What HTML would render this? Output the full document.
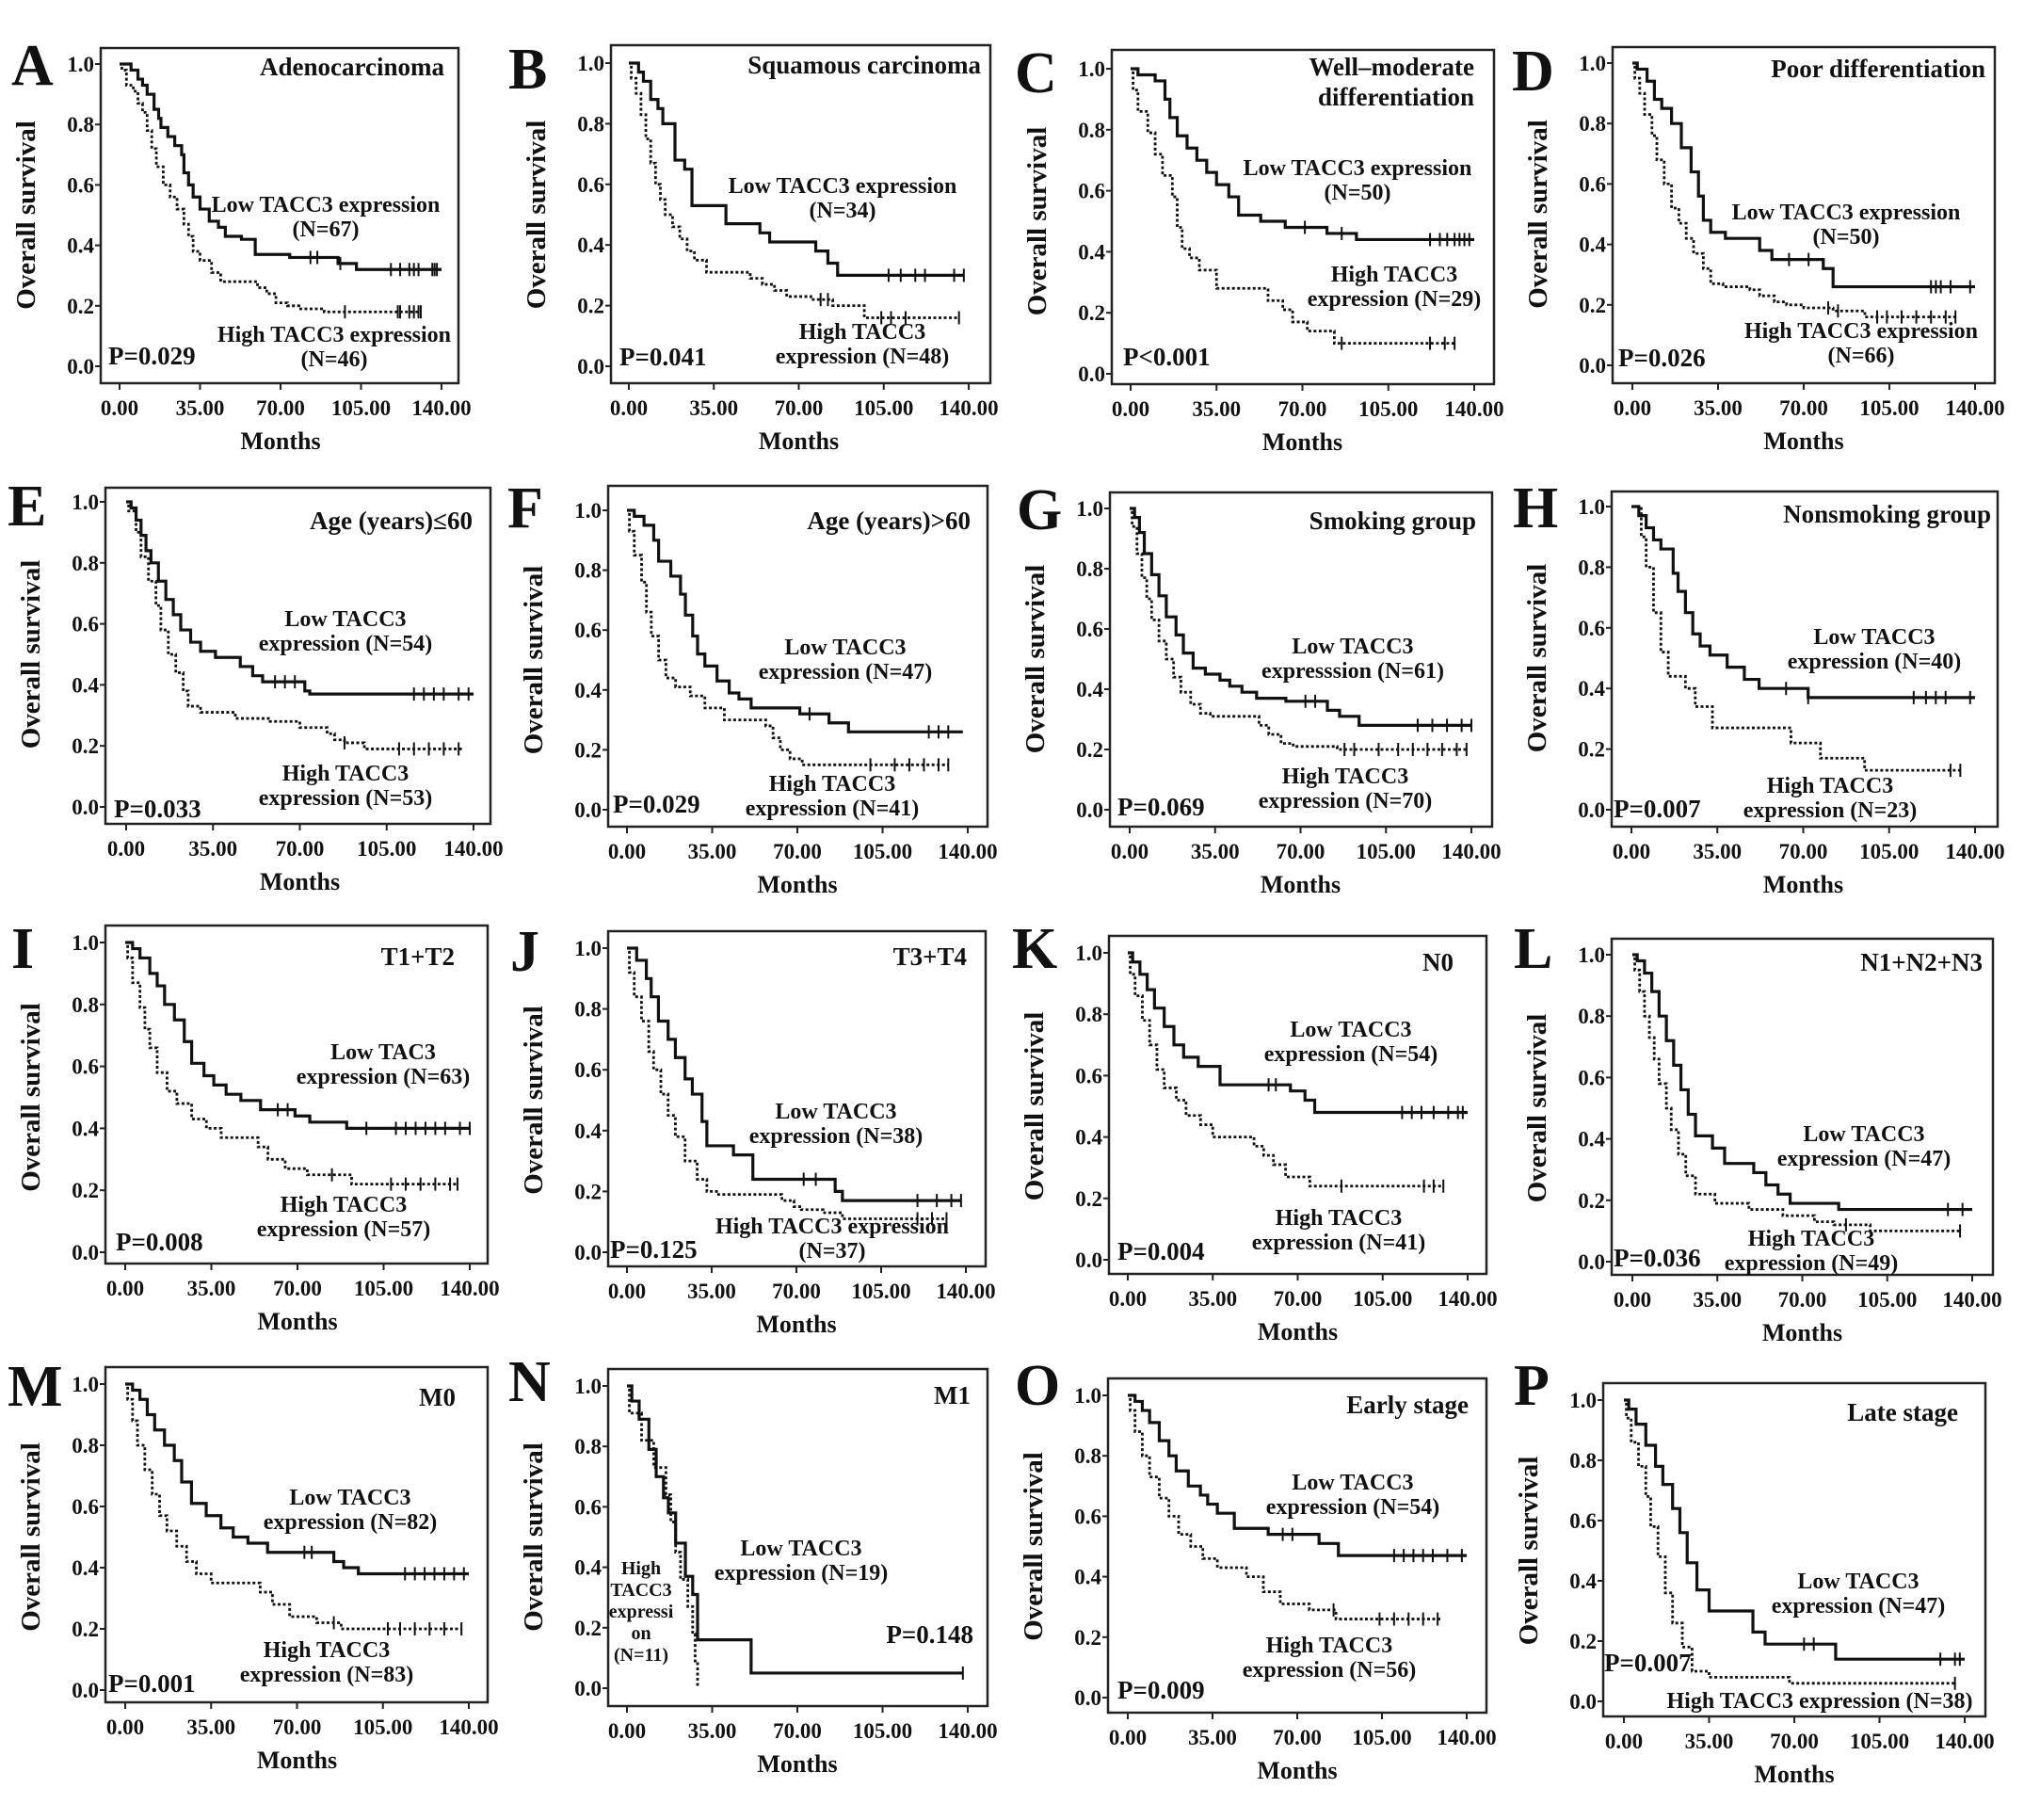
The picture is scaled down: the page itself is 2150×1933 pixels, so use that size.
<!DOCTYPE html>
<html><head><meta charset="utf-8">
<style>
html,body{margin:0;padding:0;background:#fff;}
svg text{font-family:"Liberation Serif","Times New Roman",serif;font-weight:bold;fill:#111;}
</style></head>
<body>
<svg id="fig" width="2150" height="1928" viewBox="0 0 2150 1928" font-family="Liberation Serif, serif" xmlns="http://www.w3.org/2000/svg"></svg>
<script>
// ---- Data (months, survival) ----
const panelIds = ["A","B","C","D","E","F","G","H","I","J","K","L","M","N","O","P"];
const titles = [["Adenocarcinoma"],["Squamous carcinoma"],["Well–moderate","differentiation"],["Poor differentiation"],["Age (years)≤60"],["Age (years)>60"],["Smoking group"],["Nonsmoking group"],["T1+T2"],["T3+T4"],["N0"],["N1+N2+N3"],["M0"],["M1"],["Early  stage"],["Late stage"]];
const pValues = ["P=0.029","P=0.041","P<0.001","P=0.026","P=0.033","P=0.029","P=0.069","P=0.007","P=0.008","P=0.125","P=0.004","P=0.036","P=0.001","P=0.148","P=0.009","P=0.007"];
const lowLabels = [["Low TACC3 expression","(N=67)"],["Low TACC3 expression","(N=34)"],["Low TACC3 expression","(N=50)"],["Low TACC3 expression","(N=50)"],["Low TACC3","expression (N=54)"],["Low TACC3","expression (N=47)"],["Low TACC3","expresssion (N=61)"],["Low TACC3","expression (N=40)"],["Low TAC3","expression (N=63)"],["Low TACC3","expression (N=38)"],["Low TACC3","expression (N=54)"],["Low TACC3","expression (N=47)"],["Low TACC3","expression (N=82)"],["Low TACC3","expression (N=19)"],["Low TACC3","expression (N=54)"],["Low TACC3","expression (N=47)"]];
const highLabels = [["High TACC3 expression","(N=46)"],["High TACC3","expression (N=48)"],["High TACC3","expression (N=29)"],["High TACC3 expression","(N=66)"],["High TACC3","expression (N=53)"],["High TACC3","expression (N=41)"],["High TACC3","expression (N=70)"],["High TACC3","expression (N=23)"],["High TACC3","expression (N=57)"],["High TACC3 expression","(N=37)"],["High TACC3","expression (N=41)"],["High TACC3","expression (N=49)"],["High TACC3","expression (N=83)"],["High","TACC3","expressi","on","(N=11)"],["High TACC3","expression (N=56)"],["High TACC3 expression (N=38)"]];
const xTicks = [0,35,70,105,140];
const xTickLabels = ["0.00","35.00","70.00","105.00","140.00"];
const yTicks = [0,0.2,0.4,0.6,0.8,1.0];
const yTickLabels = ["0.0","0.2","0.4","0.6","0.8","1.0"];

const lowTimes = [
[5,8,10,12,15,17,18,21,24,27,28,30,32,35,39,43,46,53,59,74,95,103],
[4,6,9,12,14,19,23,26,40,54,58,77,82,86],
[3,10,14,16,19,23,27,31,35,40,44,53,63,80,92],
[2,6,9,12,16,20,24,27,29,32,38,52,57,78,82],
[2,4,6,8,10,13,16,19,22,26,30,36,46,51,55,72,74],
[3,7,11,13,18,22,24,27,29,32,37,42,46,51,71,83,91],
[2,4,6,9,12,15,19,22,26,31,37,41,46,52,64,81,86,94],
[3,6,9,12,17,19,22,25,28,32,39,46,52,72],
[3,6,10,13,16,20,24,27,32,36,41,47,55,69,75,90],
[4,8,10,13,17,20,24,27,31,33,44,52,86,89],
[2,5,8,11,15,19,23,29,38,67,73,77],
[2,5,8,11,14,17,20,23,26,33,38,50,55,60,65,85],
[3,6,9,12,16,20,23,27,33,39,44,50,58,85,89,95],
[2,5,9,12,15,17,20,24,27,29,51],
[3,6,9,13,17,20,25,30,33,37,44,58,79,87],
[2,5,9,13,16,20,23,26,30,35,53,58,87]];
const lowSurv = [
[0.98,0.95,0.93,0.90,0.85,0.82,0.79,0.76,0.73,0.70,0.64,0.60,0.56,0.52,0.48,0.46,0.43,0.42,0.37,0.36,0.34,0.32],
[0.97,0.94,0.88,0.85,0.80,0.68,0.65,0.53,0.47,0.44,0.41,0.38,0.34,0.30],
[0.98,0.96,0.90,0.84,0.78,0.74,0.70,0.66,0.62,0.58,0.52,0.50,0.48,0.46,0.44],
[0.98,0.94,0.88,0.85,0.80,0.72,0.64,0.56,0.48,0.44,0.42,0.38,0.35,0.32,0.26],
[0.98,0.94,0.89,0.84,0.80,0.74,0.68,0.63,0.58,0.54,0.51,0.49,0.46,0.43,0.41,0.38,0.37],
[0.98,0.95,0.90,0.83,0.78,0.72,0.65,0.58,0.52,0.48,0.43,0.39,0.37,0.34,0.32,0.29,0.26],
[0.97,0.92,0.85,0.78,0.71,0.64,0.58,0.52,0.47,0.45,0.43,0.41,0.39,0.37,0.36,0.33,0.31,0.28],
[0.97,0.93,0.89,0.86,0.78,0.72,0.65,0.58,0.54,0.51,0.47,0.43,0.40,0.37],
[0.98,0.95,0.90,0.86,0.80,0.75,0.68,0.61,0.57,0.54,0.51,0.49,0.46,0.44,0.42,0.40],
[0.96,0.90,0.84,0.76,0.70,0.64,0.57,0.52,0.43,0.35,0.32,0.24,0.20,0.17],
[0.97,0.93,0.88,0.82,0.76,0.70,0.66,0.63,0.57,0.55,0.52,0.48],
[0.98,0.94,0.88,0.80,0.72,0.64,0.56,0.48,0.41,0.37,0.32,0.29,0.25,0.22,0.19,0.17],
[0.98,0.95,0.90,0.85,0.80,0.75,0.68,0.61,0.57,0.53,0.50,0.48,0.45,0.42,0.40,0.38],
[0.95,0.89,0.79,0.70,0.63,0.58,0.48,0.37,0.31,0.16,0.05],
[0.98,0.95,0.91,0.85,0.80,0.75,0.70,0.67,0.64,0.61,0.56,0.54,0.51,0.47],
[0.97,0.92,0.85,0.78,0.72,0.64,0.56,0.46,0.37,0.30,0.23,0.19,0.14]];
const lowEnd = [140,138,140,140,140,138,140,140,140,138,140,140,140,138,140,140];
const lowCens = [
[83,86,96,118,122,126,128,130,136,137,138],[107,112,118,122,134,138],[71,86,122,126,129,132,134,136,138],
[64,72,122,124,126,130,138],[60,64,68,116,120,124,128,134,138],[75,124,128,132],[72,76,118,124,130,136,140],
[63,72,115,120,124,128,138],[62,66,98,110,114,118,122,126,130,136,140],[73,78,120,128,134,138],
[58,61,113,117,121,126,132,136,138],[130,136],[73,76,114,118,122,126,130,134,138],[138],
[64,68,110,114,118,122,126,132,138],[74,78,130,136,138]];
const highTimes = [
[1,3,6,8,10,12,14,16,19,22,25,28,30,32,35,40,44,60,64,68,73,78,89],
[1,3,5,7,9,11,13,15,18,21,24,27,32,50,55,60,65,75,84,97],
[1,3,7,10,13,17,19,21,24,28,35,56,62,66,72,83],
[1,3,5,8,10,13,16,19,22,25,29,32,37,48,52,58,63,70,82,95],
[1,4,6,9,12,14,17,20,23,25,30,44,58,70,81,84,88,96],
[1,3,6,8,10,13,16,20,26,32,40,57,60,63,67,72],
[1,3,5,7,9,12,15,18,21,25,29,33,53,57,62,67,85],
[4,6,9,12,15,22,26,33,65,77,95],
[1,3,6,8,10,13,17,21,27,33,39,54,58,65,74,92],
[1,3,6,9,11,14,17,20,24,29,33,37,64,69,72,81,89],
[1,3,6,9,12,15,20,24,30,35,52,56,60,65,75],
[1,3,5,7,9,11,14,16,19,22,26,34,48,62,75,83,98],
[1,3,5,8,11,14,17,21,25,29,35,55,60,67,78,88],
[1,6,11,16,18,20,22,25,27,28,29],
[1,3,6,9,13,17,21,26,31,37,49,56,63,75,86],
[1,3,6,9,11,14,17,20,24,28,35,68]];
const highSurv = [
[0.98,0.93,0.91,0.87,0.84,0.78,0.72,0.66,0.60,0.56,0.52,0.47,0.43,0.38,0.35,0.31,0.28,0.26,0.24,0.21,0.20,0.19,0.18],
[0.95,0.90,0.83,0.75,0.67,0.60,0.55,0.50,0.46,0.42,0.38,0.35,0.31,0.29,0.27,0.25,0.23,0.22,0.20,0.16],
[0.93,0.86,0.79,0.72,0.65,0.58,0.48,0.41,0.38,0.34,0.28,0.24,0.21,0.17,0.14,0.10],
[0.95,0.90,0.83,0.76,0.68,0.60,0.52,0.47,0.42,0.37,0.32,0.27,0.26,0.25,0.23,0.21,0.20,0.19,0.18,0.16],
[0.97,0.90,0.82,0.74,0.66,0.58,0.50,0.44,0.38,0.33,0.31,0.29,0.28,0.26,0.24,0.22,0.21,0.19],
[0.93,0.85,0.76,0.66,0.58,0.50,0.44,0.41,0.38,0.34,0.30,0.28,0.24,0.20,0.17,0.15],
[0.94,0.85,0.77,0.70,0.63,0.56,0.50,0.44,0.39,0.35,0.32,0.31,0.28,0.25,0.22,0.21,0.20],
[0.90,0.80,0.65,0.52,0.44,0.40,0.34,0.27,0.22,0.17,0.13],
[0.95,0.87,0.79,0.72,0.66,0.58,0.52,0.48,0.43,0.40,0.37,0.34,0.30,0.27,0.25,0.22],
[0.92,0.84,0.76,0.66,0.60,0.52,0.45,0.38,0.30,0.24,0.20,0.19,0.17,0.15,0.14,0.13,0.11],
[0.93,0.86,0.78,0.70,0.62,0.56,0.52,0.47,0.44,0.40,0.37,0.34,0.31,0.27,0.24],
[0.95,0.88,0.80,0.73,0.66,0.58,0.50,0.43,0.35,0.28,0.22,0.19,0.17,0.15,0.13,0.12,0.10],
[0.95,0.88,0.80,0.72,0.64,0.57,0.52,0.47,0.42,0.38,0.35,0.32,0.28,0.24,0.22,0.20],
[0.91,0.82,0.73,0.64,0.55,0.45,0.36,0.27,0.18,0.09,0.0],
[0.95,0.88,0.80,0.73,0.66,0.60,0.54,0.50,0.46,0.43,0.40,0.35,0.31,0.29,0.26],
[0.94,0.86,0.78,0.68,0.58,0.48,0.36,0.26,0.18,0.10,0.08,0.06]];
const highEnd = [131,136,132,132,136,132,138,134,135,132,130,135,137,29,130,136];
const highCens = [
[98,121,122,126,128,130,131],[79,82,104,108,114,136],[86,122,128,132],[80,84,100,104,110,116,122,128,132],
[88,110,116,122,128,134],[100,110,116,122,128,132],[88,92,102,110,116,122,128,134,138],[130,134],
[84,108,114,120,126,132,135],[120,126,132],[88,122,126,130],[88,135],[85,107,112,118,124,130,137],[],
[85,104,110,116,122,128],[136]];

// ---- Layout (pixel geometry) ----
const L = [
{b:[107,51,487,407],xr:[127,469],yr:[389,68],let:[12,90],tt:[472,80],lo:[346,225],hi:[355,363],p:[115,387]},
{b:[649,48,1052,407],xr:[668,1029],yr:[389,67],let:[540,94],tt:[1042,78],lo:[895,205],hi:[916,360],p:[658,388]},
{b:[1181,53,1587,408],xr:[1201,1566],yr:[397,73],let:[1078,98],tt:[1566,80],lo:[1442,186],hi:[1481,299],p:[1193,388]},
{b:[1713,50,2119,407],xr:[1734,2098],yr:[388,67],let:[1606,96],tt:[2109,82],lo:[1961,233],hi:[1977,359],p:[1719,389]},
{b:[112,518,521,875],xr:[134,503],yr:[857,533],let:[8,558],tt:[502,562],lo:[367,665],hi:[367,829],p:[121,868]},
{b:[646,516,1049,878],xr:[666,1028],yr:[860,542],let:[539,560],tt:[1031,562],lo:[898,695],hi:[884,840],p:[651,863]},
{b:[1179,523,1585,878],xr:[1200,1563],yr:[860,540],let:[1080,562],tt:[1568,562],lo:[1437,694],hi:[1429,832],p:[1187,866]},
{b:[1712,522,2122,878],xr:[1733,2098],yr:[860,538],let:[1607,560],tt:[2115,555],lo:[1991,684],hi:[1944,842],p:[1714,868]},
{b:[112,983,518,1342],xr:[133,499],yr:[1330,1001],let:[12,1028],tt:[483,1025],lo:[407,1125],hi:[365,1287],p:[123,1328]},
{b:[646,989,1047,1345],xr:[666,1026],yr:[1330,1007],let:[542,1031],tt:[1027,1025],lo:[888,1188],hi:[884,1310],p:[648,1336]},
{b:[1178,994,1579,1353],xr:[1198,1559],yr:[1338,1012],let:[1075,1028],tt:[1544,1031],lo:[1435,1101],hi:[1422,1301],p:[1187,1338]},
{b:[1712,997,2117,1354],xr:[1734,2095],yr:[1340,1014],let:[1608,1028],tt:[2106,1031],lo:[1980,1212],hi:[1924,1323],p:[1714,1345]},
{b:[112,1452,518,1808],xr:[133,498],yr:[1795,1470],let:[8,1493],tt:[484,1493],lo:[372,1598],hi:[347,1760],p:[115,1797]},
{b:[646,1454,1049,1812],xr:[666,1028],yr:[1793,1472],let:[540,1488],tt:[1031,1491],lo:[851,1652],hi:[681,1672],p:[1034,1745]},
{b:[1177,1464,1579,1819],xr:[1198,1558],yr:[1803,1482],let:[1078,1492],tt:[1560,1501],lo:[1437,1582],hi:[1412,1755],p:[1187,1804]},
{b:[1703,1469,2109,1823],xr:[1725,2087],yr:[1807,1487],let:[1608,1492],tt:[2080,1509],lo:[1974,1687],hi:[1933,1814],p:[1704,1775]}];

const NS="http://www.w3.org/2000/svg";
const svg=document.getElementById('fig');
function mk(tag,attrs,parent){const e=document.createElementNS(NS,tag);for(const k in attrs)e.setAttribute(k,attrs[k]);(parent||svg).appendChild(e);return e;}
function txt(parent,x,y,s,size,anchor){const t=mk('text',{x:x,y:y,'font-size':size,'text-anchor':anchor||'start'},parent);t.textContent=s;return t;}

panelIds.forEach((id,i)=>{
  const g=mk('g',{});
  
  
  const ly=L[i], b=ly.b;
  const X=t=>ly.xr[0]+(ly.xr[1]-ly.xr[0])*t/140;
  const Y=s=>ly.yr[0]+(ly.yr[1]-ly.yr[0])*s;
  const frame=mk('rect',{x:b[0],y:b[1],width:b[2]-b[0],height:b[3]-b[1],fill:'none',stroke:'#222','stroke-width':2.5},g);
  
  
  const letter=txt(g,ly.let[0],ly.let[1],id,62,'start');
  
  
  yTicks.forEach((v,k)=>{
    mk('line',{x1:b[0]-6,x2:b[0],y1:Y(v),y2:Y(v),stroke:'#222','stroke-width':2},g);
    const tl=txt(g,b[0]-7,Y(v)+8,yTickLabels[k],23,'end');
    
    
  });
  xTicks.forEach((v,k)=>{
    mk('line',{x1:X(v),x2:X(v),y1:b[3],y2:b[3]+7,stroke:'#222','stroke-width':2},g);
    const tl=txt(g,X(v),b[3]+34,xTickLabels[k],23,'middle');
    
    
  });
  const xt=txt(g,(ly.xr[0]+ly.xr[1])/2,b[3]+70,'Months',26,'middle');
  
  
  const cy=(ly.yr[0]+ly.yr[1])/2, cx=b[0]-70;
  const yt=mk('text',{x:cx,y:cy,'font-size':29,'text-anchor':'middle',transform:`rotate(-90 ${cx} ${cy})`},g);
  yt.textContent='Overall survival';
  
  
  titles[i].forEach((s,k)=>{const t=txt(g,ly.tt[0],ly.tt[1]+k*32,s,27,'end');
    
    });
  function curve(times,surv,end,cens,dashed,name){
    let d=`M${X(0)},${Y(1)}`;
    times.forEach((t,k)=>{d+=` H${X(t)} V${Y(surv[k])}`;});
    d+=` H${X(end)}`;
    const p=mk('path',{d:d,fill:'none',stroke:'#111','stroke-width':dashed?2.8:3.2,'stroke-dasharray':dashed?'3,2.5':'none'},g);
    
    
    const S=t=>{let s=1;times.forEach((tt,k)=>{if(tt<=t)s=surv[k];});return s;};
    cens.forEach(t=>{
      const c=mk('line',{x1:X(t),x2:X(t),y1:Y(S(t))-7,y2:Y(S(t))+7,stroke:'#111','stroke-width':2},g);
      
      
    });
  }
  curve(lowTimes[i],lowSurv[i],lowEnd[i],lowCens[i],false,'low-tacc3-curve');
  curve(highTimes[i],highSurv[i],highEnd[i],highCens[i],true,'high-tacc3-curve');
  lowLabels[i].forEach((s,k)=>{const t=txt(g,ly.lo[0],ly.lo[1]+k*26,s,24,'middle');
    
    });
  const hs=id==='N'?20:24, hg=id==='N'?23:26;
  highLabels[i].forEach((s,k)=>{const t=txt(g,ly.hi[0],ly.hi[1]+k*hg,s,hs,'middle');
    
    });
  const pv=txt(g,ly.p[0],ly.p[1],pValues[i],27,id==='N'?'end':'start');
  
  
});
</script>
</body></html>
